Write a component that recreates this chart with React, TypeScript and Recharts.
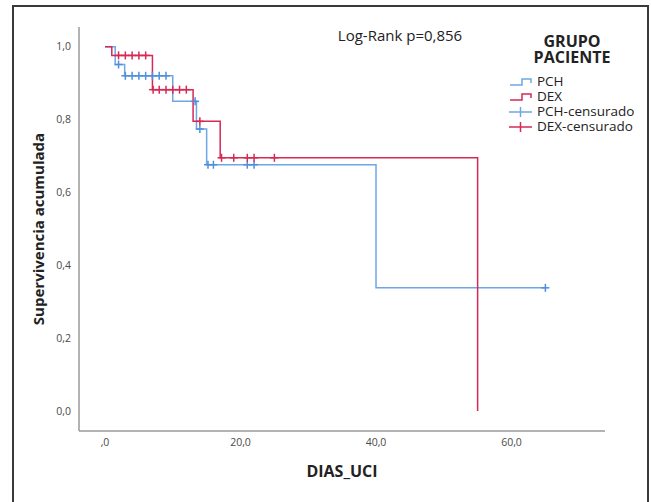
import { ComposedChart, Legend, Line, Scatter, XAxis, YAxis } from 'recharts';

// Kaplan-Meier steps
const pchTime = [0, 1.5, 2.9, 10, 13.5, 15, 40, 65];
const pchSurv = [1, 0.951, 0.92, 0.85, 0.774, 0.676, 0.338, 0.338];
const dexTime = [0, 1, 7, 13, 17, 55];
const dexSurv = [1, 0.976, 0.882, 0.795, 0.695, 0];

// censored cases
const pchCensTime = [2, 3, 4, 5, 6, 7, 8, 9, 13.3, 14, 15.2, 16, 21, 22, 65];
const pchCensSurv = [0.951, 0.92, 0.92, 0.92, 0.92, 0.92, 0.92, 0.92, 0.85, 0.774, 0.676, 0.676, 0.676, 0.676, 0.338];
const dexCensTime = [2, 3, 4, 5, 6, 7.1, 8, 9, 10, 11, 12, 14, 17.2, 19, 21, 22, 25];
const dexCensSurv = [0.976, 0.976, 0.976, 0.976, 0.976, 0.882, 0.882, 0.882, 0.882, 0.882, 0.882, 0.795, 0.695, 0.695, 0.695, 0.695, 0.695];

const xTicks = [0, 20, 40, 60];
const yTicks = [0, 0.2, 0.4, 0.6, 0.8, 1];
const legendNames = ['PCH', 'DEX', 'PCH-censurado', 'DEX-censurado'];

const BLUE = '#6ea6e6';
const BLUE_MARK = '#4f8fdc';
const RED = '#d42a55';
const FONT = '"Open Sans", "DejaVu Sans", sans-serif';

const toPoints = (t: number[], s: number[]) => t.map((x, i) => ({ t: x, s: s[i] }));
const pchSteps = toPoints(pchTime, pchSurv);
const dexSteps = toPoints(dexTime, dexSurv);
const pchCens = toPoints(pchCensTime, pchCensSurv);
const dexCens = toPoints(dexCensTime, dexCensSurv);

const fmtX = (v: number) => (v === 0 ? ',0' : v.toFixed(1).replace('.', ','));
const fmtY = (v: number) => v.toFixed(1).replace('.', ',');

function Cross(props: any) {
  const { cx, cy, fill } = props;
  if (cx == null || cy == null) return null;
  return (
    <g stroke={fill} strokeWidth={1.5}>
      <line x1={cx - 4} x2={cx + 4} y1={cy} y2={cy} />
      <line x1={cx} x2={cx} y1={cy - 4} y2={cy + 4} />
    </g>
  );
}

function LegendIcon({ index }: { index: number }) {
  const color = index % 2 === 0 ? BLUE : RED;
  if (index < 2) {
    return (
      <svg width={24} height={12}>
        <path d="M1,9 H13 V3 H22 V7" fill="none" stroke={color} strokeWidth={1.5} />
      </svg>
    );
  }
  return (
    <svg width={24} height={12}>
      <line x1={0} x2={23} y1={6} y2={6} stroke={color} strokeWidth={1.5} />
      <line x1={11.5} x2={11.5} y1={1} y2={11} stroke={color} strokeWidth={1.5} />
    </svg>
  );
}

function GroupLegend() {
  return (
    <div style={{ fontFamily: FONT, fontSize: 13.5, color: '#222', textAlign: 'left' }}>
      {legendNames.map((name, i) => (
        <div key={name} style={{ display: 'flex', alignItems: 'center', height: 15 }}>
          <LegendIcon index={i} />
          <span style={{ marginLeft: 4, lineHeight: '15px' }}>{name}</span>
        </div>
      ))}
    </div>
  );
}

const titleStyle = {
  position: 'absolute' as const,
  transform: 'translate(-50%,-50%)',
  fontWeight: 700,
  color: '#222',
  whiteSpace: 'nowrap' as const,
};

export default function App() {
  return (
    <div style={{ position: 'absolute', left: 0, top: 0, width: 651, height: 502, background: '#fff', fontFamily: FONT }}>
      <div
        style={{
          position: 'absolute',
          left: 12,
          top: 5,
          width: 633,
          height: 495,
          border: '2px solid #3a3a3a',
          borderBottom: 'none',
        }}
      />
      <div style={{ position: 'absolute', left: 0, top: 0 }}>
        <ComposedChart width={651} height={502} margin={{ top: 27, right: 46, bottom: 41, left: 39 }}>
          <XAxis
            type="number"
            dataKey="t"
            domain={[-3.84, 73.8]}
            ticks={xTicks}
            tickFormatter={fmtX}
            allowDataOverflow
            height={30}
            tickLine={false}
            axisLine={{ stroke: '#9a9a9a', strokeWidth: 1.5 }}
            tick={{ fontSize: 10.5, fill: '#4a4a4a', fontFamily: FONT }}
          />
          <YAxis
            type="number"
            dataKey="s"
            domain={[-0.055, 1.054]}
            ticks={yTicks}
            tickFormatter={fmtY}
            allowDataOverflow
            width={40}
            tickLine={false}
            axisLine={{ stroke: '#9a9a9a', strokeWidth: 1.5 }}
            tick={{ fontSize: 10.5, fill: '#4a4a4a', fontFamily: FONT }}
          />
          <Legend
            layout="horizontal"
            verticalAlign="middle"
            align="center"
            content={<GroupLegend />}
            wrapperStyle={{ left: 509, top: 74, width: 140 }}
          />
          <Line
            data={pchSteps}
            dataKey="s"
            name="PCH"
            type="stepAfter"
            stroke={BLUE}
            strokeWidth={1.5}
            dot={false}
            activeDot={false}
            isAnimationActive={false}
            legendType="none"
          />
          <Scatter
            data={pchCens}
            dataKey="s"
            name="PCH-censurado"
            fill={BLUE_MARK}
            shape={<Cross />}
            isAnimationActive={false}
            legendType="none"
          />
          <Line
            data={dexSteps}
            dataKey="s"
            name="DEX"
            type="stepAfter"
            stroke={RED}
            strokeWidth={1.5}
            dot={false}
            activeDot={false}
            isAnimationActive={false}
            legendType="none"
          />
          <Scatter
            data={dexCens}
            dataKey="s"
            name="DEX-censurado"
            fill={RED}
            shape={<Cross />}
            isAnimationActive={false}
            legendType="none"
          />
        </ComposedChart>
      </div>
      <div style={{ ...titleStyle, left: 400, top: 35, fontSize: 15, fontWeight: 400, lineHeight: '18px' }}>
        Log-Rank p=0,856
      </div>
      <div style={{ ...titleStyle, left: 572, top: 41, fontSize: 16, lineHeight: '15px' }}>GRUPO</div>
      <div style={{ ...titleStyle, left: 572, top: 57, fontSize: 16, lineHeight: '15px' }}>PACIENTE</div>
      <div style={{ ...titleStyle, left: 38, top: 229, fontSize: 15, transform: 'translate(-50%,-50%) rotate(-90deg)' }}>
        Supervivencia acumulada
      </div>
      <div style={{ ...titleStyle, left: 342, top: 471, fontSize: 16 }}>DIAS_UCI</div>
    </div>
  );
}
